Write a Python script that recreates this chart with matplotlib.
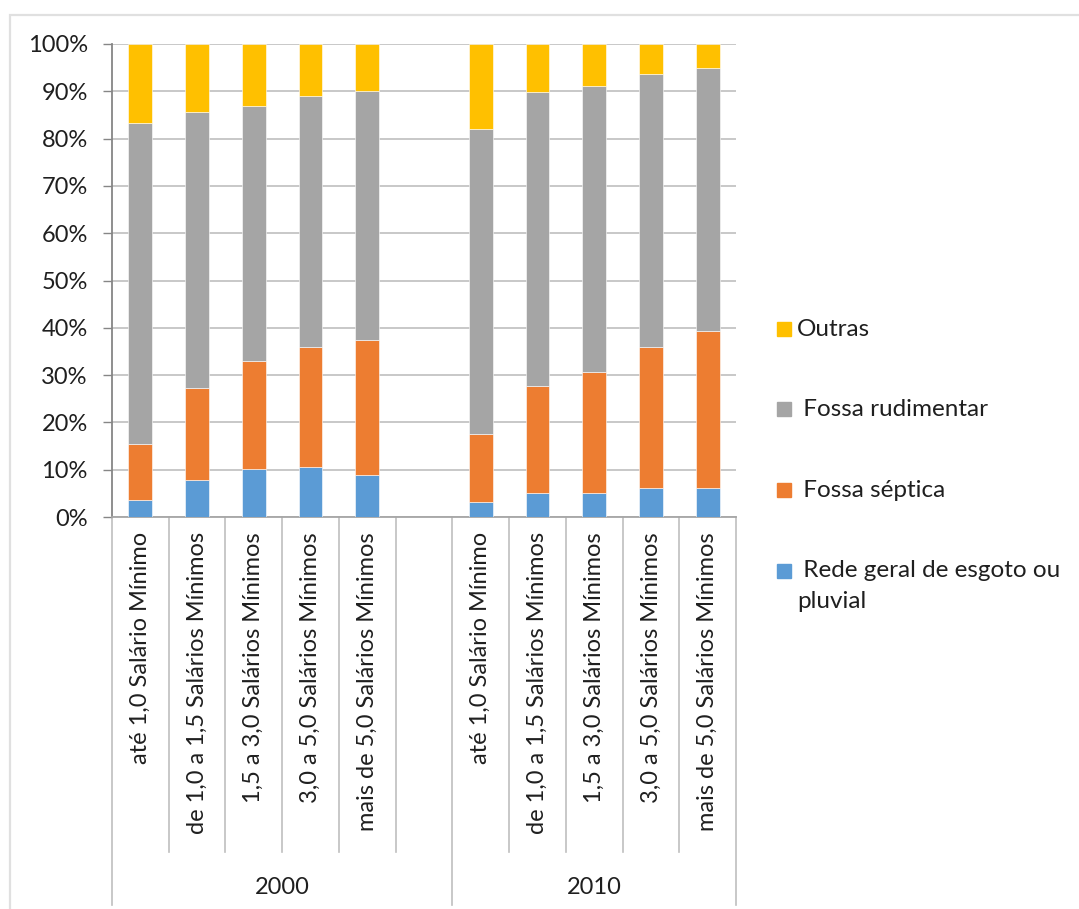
import matplotlib
matplotlib.use("Agg")
import matplotlib.pyplot as plt
import matplotlib.transforms as mtransforms
from matplotlib.patches import Rectangle
import numpy as np

plt.rcParams['font.family'] = ['Lato', 'DejaVu Sans']

# Income classes (household income in minimum wages) and census years
categories = ["até 1,0 Salário Mínimo", "de 1,0 a 1,5 Salários Mínimos",
              "1,5 a 3,0 Salários Mínimos", "3,0 a 5,0 Salários Mínimos",
              "mais de 5,0 Salários Mínimos"]
years = ["2000", "2010"]

# Share of households (%) by type of sewage disposal
rede_2000 = [3.6, 7.9, 10.1, 10.6, 8.9]
rede_2010 = [3.2, 5.1, 5.0, 6.1, 6.2]
septica_2000 = [11.9, 19.4, 22.9, 25.3, 28.5]
septica_2010 = [14.3, 22.5, 25.6, 29.8, 33.2]
rudimentar_2000 = [67.7, 58.4, 53.9, 53.2, 52.7]
rudimentar_2010 = [64.5, 62.2, 60.6, 57.8, 55.5]
outras_2000 = [16.8, 14.3, 13.1, 10.9, 9.9]
outras_2010 = [18.0, 10.2, 8.8, 6.3, 5.1]

series = [
    ("Rede geral de esgoto ou\npluvial", rede_2000 + rede_2010, "#5B9BD5"),
    ("Fossa séptica", septica_2000 + septica_2010, "#ED7D31"),
    ("Fossa rudimentar", rudimentar_2000 + rudimentar_2010, "#A5A5A5"),
    ("Outras", outras_2000 + outras_2010, "#FFC000"),
]

TXT = "#1F1F1F"
W, H = 1079, 909
fig = plt.figure(figsize=(W / 100, H / 100), dpi=100)
fig.patches.append(Rectangle((10 / W, -0.1), 1.2, 1.1 - 15 / H, transform=fig.transFigure,
                             fill=False, edgecolor="#E0E0E0", linewidth=1.6))

ax = fig.add_axes([112 / W, 1 - 517 / H, (736 - 112) / W, (517 - 44) / H])

n = len(categories)
# one empty slot between the two years
pos = np.array(list(range(n)) + [n + 1 + i for i in range(n)], dtype=float)

bottom = np.zeros(len(pos))
for name, vals, color in series:
    vals = np.array(vals, dtype=float)
    ax.bar(pos, vals, width=0.42, bottom=bottom, color=color, zorder=3,
           edgecolor="white", linewidth=0.4)
    bottom += vals

ax.set_xlim(-0.5, 2 * n + 0.5)
ax.set_ylim(0, 100)
ax.set_yticks(np.arange(0, 101, 10))
ax.set_yticklabels([f"{v}%" for v in range(0, 101, 10)], fontsize=17, color=TXT)
ax.yaxis.grid(True, color="#BFBFBF", linewidth=1.2, zorder=0)
ax.tick_params(axis="y", length=6.5, width=1, color="#868686", pad=11)
ax.set_xticks([])
for s in ["top", "right"]:
    ax.spines[s].set_visible(False)
ax.spines["left"].set_color("#868686")
ax.spines["left"].set_linewidth(1.3)
ax.spines["bottom"].set_color("#A6A6A6")
ax.spines["bottom"].set_linewidth(1.3)

# Multi-level category axis: rotated class labels, separators and year labels
trans = mtransforms.blended_transform_factory(ax.transData, fig.transFigure)
for p, lab in zip(pos, categories + categories):
    ax.text(p, 1 - 532 / H, lab, transform=trans, rotation=90, ha="center", va="top",
            fontsize=17, color=TXT)

y0 = 1 - 517 / H
short_end = 1 - 852 / H
long_end = 1 - 905 / H
for b in np.arange(-0.5, 2 * n + 1, 1.0):
    long = b in (-0.5, n + 0.5, 2 * n + 0.5)
    ax.plot([b, b], [y0, long_end if long else short_end], transform=trans,
            color="#BFBFBF", linewidth=1.2, clip_on=False, zorder=1)

ax.text((0 + n) / 2, 1 - 887 / H, years[0], transform=trans, ha="center", va="center",
        fontsize=17, color=TXT)
ax.text((n + 1 + 2 * n) / 2, 1 - 887 / H, years[1], transform=trans, ha="center",
        va="center", fontsize=17, color=TXT)

# Legend drawn top to bottom: Outras, Fossa rudimentar, Fossa séptica, Rede geral
legend_y = [329, 409, 490, 571]
for (name, vals, color), ly in zip(series[::-1], legend_y):
    fig.patches.append(Rectangle((777 / W, 1 - (ly + 7) / H), 14 / W, 14 / H,
                                 transform=fig.transFigure, color=color))
    txt = name if name == "Outras" else " " + name
    fig.text(797 / W, 1 - (ly - 11 if "\n" in name else ly) / H, txt, ha="left",
             va="top" if "\n" in name else "center",
             fontsize=17.5, color=TXT, linespacing=1.6)

fig.savefig("out.png", dpi=100)
